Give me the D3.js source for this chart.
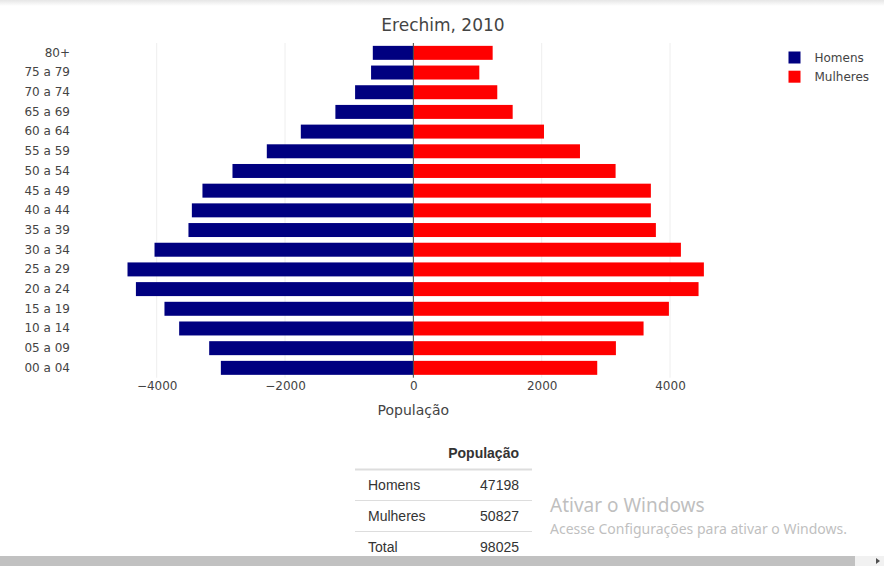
<!DOCTYPE html>
<html>
<head>
<meta charset="utf-8">
<script src="https://cdn.jsdelivr.net/npm/d3@7"></script>
<style>
  body { margin: 0; background: #fff; overflow: hidden; }
  svg { display: block; }
</style>
</head>
<body>
<svg width="884" height="566"></svg>
<script>
// age groups, top to bottom as drawn
var faixas = ['80+', '75 a 79', '70 a 74', '65 a 69', '60 a 64', '55 a 59', '50 a 54', '45 a 49',
    '40 a 44', '35 a 39', '30 a 34', '25 a 29', '20 a 24', '15 a 19', '10 a 14', '05 a 09', '00 a 04'];
var homens = [632, 659, 908, 1215, 1754, 2284, 2819, 3287, 3452, 3505, 4034, 4455, 4324, 3879, 3650, 3182, 3000];
var mulheres = [1236, 1028, 1308, 1548, 2036, 2597, 3152, 3702, 3702, 3780, 4170, 4528, 4445, 3983, 3588, 3157, 2866];
var xTicks = [-4000, -2000, 0, 2000, 4000];
var tabelaRotulos = ['Homens', 'Mulheres', 'Total'];
var tabelaValores = [47198, 50827, 98025];

var svg = d3.select('svg');
var font = 'Verdana, "DejaVu Sans", sans-serif';

// little shadow at the top of the window
var defs = svg.append('defs');
var grad = defs.append('linearGradient').attr('id', 'sombra').attr('x1', 0).attr('y1', 0).attr('x2', 0).attr('y2', 1);
grad.append('stop').attr('offset', '0%').attr('stop-color', '#e6e6e6');
grad.append('stop').attr('offset', '100%').attr('stop-color', '#fff');
svg.append('rect').attr('x', 0).attr('y', 0).attr('width', 884).attr('height', 6).attr('fill', 'url(#sombra)');

// plot area (vertical extent)
var plotTop = 43, plotBottom = 377.7;

// scales
var xScale = d3.scaleLinear()
    .domain([-4000, 4000])
    .range([156.7, 670]);

var yScale = d3.scaleBand()
    .domain(faixas)
    .range([plotTop, plotBottom])
    .paddingInner(0.29)
    .paddingOuter(0.145);

// gridlines
svg.append('g').selectAll('line')
    .data(xTicks.filter(d => d !== 0))
    .enter().append('line')
    .attr('x1', d => xScale(d)).attr('x2', d => xScale(d))
    .attr('y1', plotTop).attr('y2', plotBottom)
    .attr('stroke', '#eee').attr('stroke-width', 1);

// bars
var rows = faixas.map((f, i) => ({ f: f, h: homens[i], m: mulheres[i] }));

svg.append('g').selectAll('rect')
    .data(rows)
    .enter().append('rect')
    .attr('x', d => xScale(-d.h))
    .attr('y', d => yScale(d.f))
    .attr('width', d => xScale(0) - xScale(-d.h))
    .attr('height', yScale.bandwidth())
    .attr('fill', '#000080');

svg.append('g').selectAll('rect')
    .data(rows)
    .enter().append('rect')
    .attr('x', xScale(0))
    .attr('y', d => yScale(d.f))
    .attr('width', d => xScale(d.m) - xScale(0))
    .attr('height', yScale.bandwidth())
    .attr('fill', '#ff0000');

// zero line
svg.append('line')
    .attr('x1', xScale(0)).attr('x2', xScale(0))
    .attr('y1', plotTop).attr('y2', plotBottom)
    .attr('stroke', '#444').attr('stroke-width', 1);

// y axis labels
var yAxis = d3.axisLeft(yScale).tickSize(0).tickPadding(0);
var gy = svg.append('g')
    .attr('transform', 'translate(' + [70, 0] + ')')
    .call(yAxis);
gy.select('.domain').remove();
gy.selectAll('text')
    .attr('font-family', font).attr('font-size', 12).attr('fill', '#444');

// x axis labels
var xAxis = d3.axisBottom(xScale)
    .tickValues(xTicks)
    .tickSize(0)
    .tickPadding(0)
    .tickFormat(d => d < 0 ? '\u2212' + Math.abs(d) : String(d));
var gx = svg.append('g')
    .attr('transform', 'translate(' + [0, 381] + ')')
    .call(xAxis);
gx.select('.domain').remove();
gx.selectAll('text')
    .attr('font-family', font).attr('font-size', 12).attr('fill', '#444');

// titles
svg.append('text')
    .attr('x', 443).attr('y', 31)
    .attr('text-anchor', 'middle')
    .attr('font-family', font).attr('font-size', 17).attr('fill', '#444')
    .text('Erechim, 2010');

svg.append('text')
    .attr('x', xScale(0)).attr('y', 415)
    .attr('text-anchor', 'middle')
    .attr('font-family', font).attr('font-size', 14).attr('fill', '#444')
    .text('População');

// legend
var legenda = [{ nome: 'Homens', cor: '#000080' }, { nome: 'Mulheres', cor: '#ff0000' }];
var lg = svg.append('g').selectAll('g')
    .data(legenda)
    .enter().append('g')
    .attr('transform', (d, i) => 'translate(' + [788.5, 51.5 + i * 19.2] + ')');
lg.append('rect').attr('width', 12).attr('height', 12).attr('fill', d => d.cor);
lg.append('text')
    .attr('x', 26).attr('y', 6).attr('dy', '0.35em')
    .attr('font-family', font).attr('font-size', 12).attr('fill', '#444')
    .text(d => d.nome);

// summary table
var tf = 'Arial, "Liberation Sans", Helvetica, sans-serif';
var tab = svg.append('g');
tab.append('text')
    .attr('x', 519).attr('y', 458)
    .attr('text-anchor', 'end')
    .attr('font-family', tf).attr('font-size', 14).attr('font-weight', 'bold').attr('fill', '#333')
    .text('População');
tab.append('line')
    .attr('x1', 355).attr('x2', 532).attr('y1', 469.5).attr('y2', 469.5)
    .attr('stroke', '#ddd').attr('stroke-width', 2);
var tr = tab.selectAll('g.row')
    .data(tabelaRotulos)
    .enter().append('g').attr('class', 'row')
    .attr('transform', (d, i) => 'translate(' + [0, 490 + i * 31] + ')');
tr.append('text')
    .attr('x', 368).attr('y', 0)
    .attr('font-family', tf).attr('font-size', 14).attr('fill', '#333')
    .text(d => d);
tr.append('text')
    .attr('x', 519).attr('y', 0)
    .attr('text-anchor', 'end')
    .attr('font-family', tf).attr('font-size', 14).attr('fill', '#333')
    .text((d, i) => tabelaValores[i]);
tr.filter((d, i) => i < tabelaRotulos.length - 1).append('line')
    .attr('x1', 355).attr('x2', 532).attr('y1', 10.5).attr('y2', 10.5)
    .attr('stroke', '#ddd').attr('stroke-width', 1);

// windows activation watermark
svg.append('text')
    .attr('x', 550).attr('y', 512)
    .attr('font-family', '"Noto Sans", "Open Sans", sans-serif').attr('font-size', 19).attr('fill', '#bfbfbf')
    .text('Ativar o Windows');
svg.append('text')
    .attr('x', 550).attr('y', 534)
    .attr('font-family', '"Noto Sans", "Open Sans", sans-serif').attr('font-size', 14).attr('fill', '#bfbfbf')
    .text('Acesse Configurações para ativar o Windows.');

// horizontal scrollbar
svg.append('rect').attr('x', 0).attr('y', 556).attr('width', 884).attr('height', 10).attr('fill', '#f1f1f1');
svg.append('rect').attr('x', 0).attr('y', 556).attr('width', 855).attr('height', 10).attr('fill', '#c1c1c1');
svg.append('path').attr('d', 'M876,558 L880,561 L876,564 Z').attr('fill', '#505050');
</script>
</body>
</html>
